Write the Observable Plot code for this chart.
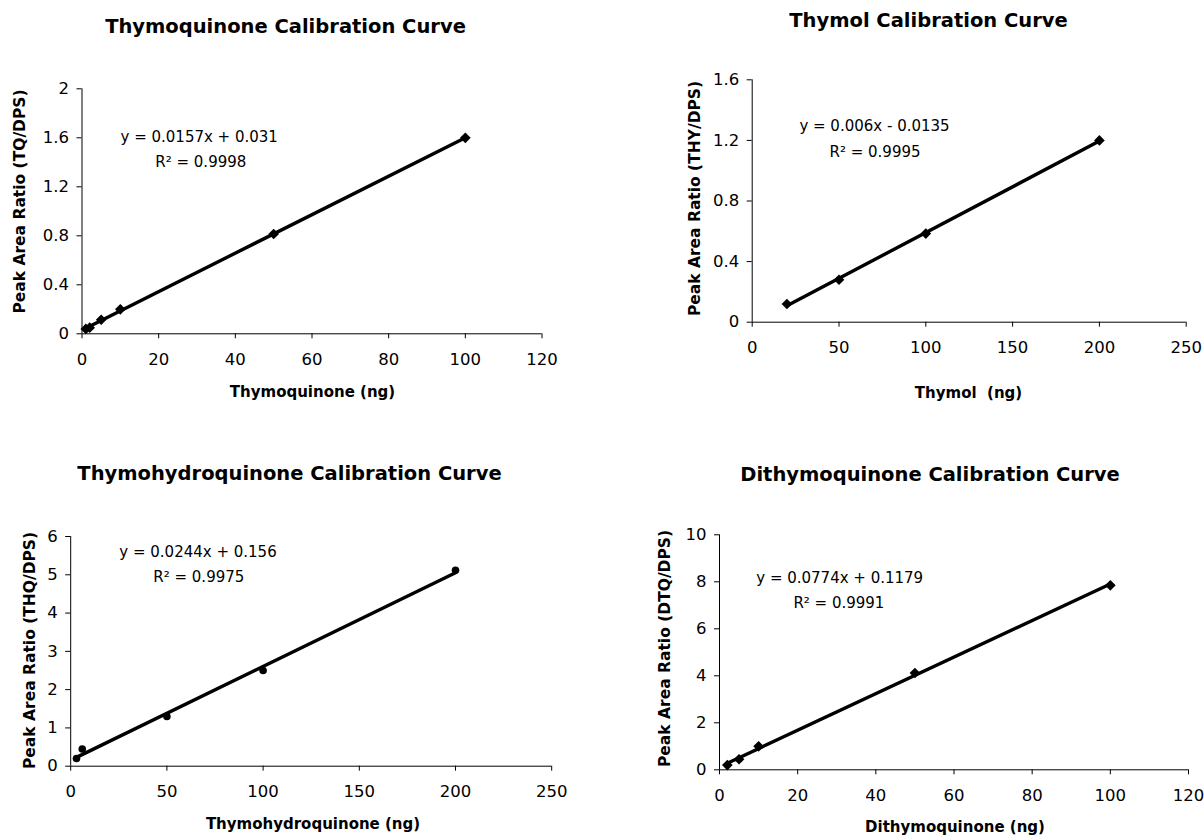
<!DOCTYPE html>
<html>
<head>
<meta charset="utf-8">
<script src="https://cdn.jsdelivr.net/npm/d3@7"></script>
<script src="https://cdn.jsdelivr.net/npm/@observablehq/plot@0.6"></script>
<style>
  html, body { margin: 0; padding: 0; background: #fff; }
  #page { position: relative; width: 1204px; height: 835px; overflow: hidden; background: #fff; }
  #page > div { position: absolute; }
  svg { overflow: visible; }
  #page svg g[aria-label="x-axis tick label"],
  #page svg g[aria-label="y-axis tick label"],
  #page svg g[aria-label="x-axis tick label"] text,
  #page svg g[aria-label="y-axis tick label"] text {
    font-size: 16.5px !important;
    font-family: "DejaVu Sans", sans-serif !important;
  }
</style>
</head>
<body>
<div id="page"></div>
<script>
// ---------- data ----------
// Thymoquinone (TQ)
const tqX = [1, 2, 5, 10, 50, 100];
const tqY = [0.04, 0.05, 0.115, 0.2, 0.815, 1.6];
const tqXTicks = [0, 20, 40, 60, 80, 100, 120];
const tqYTicks = [0, 0.4, 0.8, 1.2, 1.6, 2];

// Thymol (THY)
const thyX = [20, 50, 100, 200];
const thyY = [0.12, 0.28, 0.585, 1.2];
const thyXTicks = [0, 50, 100, 150, 200, 250];
const thyYTicks = [0, 0.4, 0.8, 1.2, 1.6];

// Thymohydroquinone (THQ)
const thqX = [3, 6, 50, 100, 200];
const thqY = [0.2, 0.45, 1.3, 2.5, 5.12];
const thqXTicks = [0, 50, 100, 150, 200, 250];
const thqYTicks = [0, 1, 2, 3, 4, 5, 6];

// Dithymoquinone (DTQ)
const dtqX = [2, 5, 10, 50, 100];
const dtqY = [0.2, 0.45, 1.0, 4.12, 7.85];
const dtqXTicks = [0, 20, 40, 60, 80, 100, 120];
const dtqYTicks = [0, 2, 4, 6, 8, 10];

// texts
const titles = [
  "Thymoquinone Calibration Curve",
  "Thymol Calibration Curve",
  "Thymohydroquinone Calibration Curve",
  "Dithymoquinone Calibration Curve"
];
const xLabels = ["Thymoquinone (ng)", "Thymol  (ng)", "Thymohydroquinone (ng)", "Dithymoquinone (ng)"];
const yLabels = [
  "Peak Area Ratio (TQ/DPS)",
  "Peak Area Ratio (THY/DPS)",
  "Peak Area Ratio (THQ/DPS)",
  "Peak Area Ratio (DTQ/DPS)"
];
const equations = [
  "y = 0.0157x + 0.031",
  "y = 0.006x - 0.0135",
  "y = 0.0244x + 0.156",
  "y = 0.0774x + 0.1179"
];
const r2Labels = ["R² = 0.9998", "R² = 0.9995", "R² = 0.9975", "R² = 0.9991"];

// ---------- layout (positions & styles only) ----------
const layout = [
  {left: 0,   top: 0,   width: 600, height: 420, mL: 81.5,  mR: 58.5, mT: 88.3, mB: 86.7,
   titleD: [-26.5, -61.9], yLabD: [-61.5, -9.8], xLabD: [0.5, 58.7], eqD: [117.2, 48.4], r2D: [118.8, 73.4],
   symbol: "diamond2", r: 4.8},
  {left: 604, top: 0,   width: 600, height: 420, mL: 147.7, mR: 18.3, mT: 79.3, mB: 98.3,
   titleD: [-40.7, -59], yLabD: [-56.7, -2.5], xLabD: [-0.7, 71.3], eqD: [122.3, 46.7], r2D: [122.8, 72.7],
   symbol: "diamond2", r: 4.8},
  {left: 0,   top: 440, width: 600, height: 395, mL: 70.2,  mR: 48.8, mT: 96,   mB: 69.3,
   titleD: [-21.7, -62.3], yLabD: [-40.2, -0.9], xLabD: [1.8, 57.6], eqD: [127.3, 15.7], r2D: [128.1, 40.7],
   symbol: "circle", r: 3.8},
  {left: 604, top: 440, width: 600, height: 395, mL: 115,   mR: 16,   mT: 94.3, mB: 65.7,
   titleD: [-24, -59.8], yLabD: [-54, -3.8], xLabD: [1, 57.4], eqD: [120.2, 43.7], r2D: [119.4, 68.7],
   symbol: "diamond2", r: 4.8}
];

const series = [
  {x: tqX, y: tqY, xT: tqXTicks, yT: tqYTicks},
  {x: thyX, y: thyY, xT: thyXTicks, yT: thyYTicks},
  {x: thqX, y: thqY, xT: thqXTicks, yT: thqYTicks},
  {x: dtqX, y: dtqY, xT: dtqXTicks, yT: dtqYTicks}
];

const FONT = "DejaVu Sans";
const page = document.getElementById("page");

series.forEach((s, i) => {
  const L = layout[i];
  const data = s.x.map((x, j) => ({x, y: s.y[j]}));
  const xDom = [s.xT[0], s.xT[s.xT.length - 1]];
  const yDom = [s.yT[0], s.yT[s.yT.length - 1]];
  const txt = {fontFamily: FONT, fill: "#000", lineAnchor: "middle", textAnchor: "middle"};

  const chart = Plot.plot({
    width: L.width,
    height: L.height,
    marginLeft: L.mL,
    marginRight: L.mR,
    marginTop: L.mT,
    marginBottom: L.mB,
    style: {fontFamily: FONT, fontSize: "16px", color: "#000", background: "#fff", overflow: "visible"},
    x: {domain: xDom, ticks: s.xT},
    y: {domain: yDom, ticks: s.yT},
    marks: [
      Plot.axisX({ticks: s.xT, tickSize: 5, tickPadding: 14, label: null, tickFormat: d => String(d),
                  fontSize: 16.5, fontFamily: FONT}),
      Plot.axisY({ticks: s.yT, tickSize: 5, tickPadding: 8, label: null, tickFormat: d => String(d),
                  fontSize: 16.5, fontFamily: FONT}),
      Plot.ruleY([yDom[0]], {stroke: "#000", strokeWidth: 1}),
      Plot.ruleX([xDom[0]], {stroke: "#000", strokeWidth: 1}),
      Plot.linearRegressionY(data, {x: "x", y: "y", ci: 0, stroke: "#000", strokeWidth: 3.4}),
      Plot.dot(data, {x: "x", y: "y", symbol: L.symbol, r: L.r, fill: "#000", stroke: "none"}),
      Plot.text([titles[i]], {...txt, frameAnchor: "top", dx: L.titleD[0], dy: L.titleD[1],
                              fontSize: 19.5, fontWeight: "bold"}),
      Plot.text([xLabels[i]], {...txt, frameAnchor: "bottom", dx: L.xLabD[0], dy: L.xLabD[1],
                               fontSize: 15, fontWeight: "bold"}),
      Plot.text([yLabels[i]], {...txt, frameAnchor: "left", dx: L.yLabD[0], dy: L.yLabD[1],
                               rotate: -90, fontSize: 15.5, fontWeight: "bold"}),
      Plot.text([equations[i]], {...txt, frameAnchor: "top-left", dx: L.eqD[0], dy: L.eqD[1], fontSize: 15}),
      Plot.text([r2Labels[i]], {...txt, frameAnchor: "top-left", dx: L.r2D[0], dy: L.r2D[1], fontSize: 15})
    ]
  });

  const holder = document.createElement("div");
  holder.style.left = L.left + "px";
  holder.style.top = L.top + "px";
  holder.appendChild(chart);
  page.appendChild(holder);
});
</script>
</body>
</html>
